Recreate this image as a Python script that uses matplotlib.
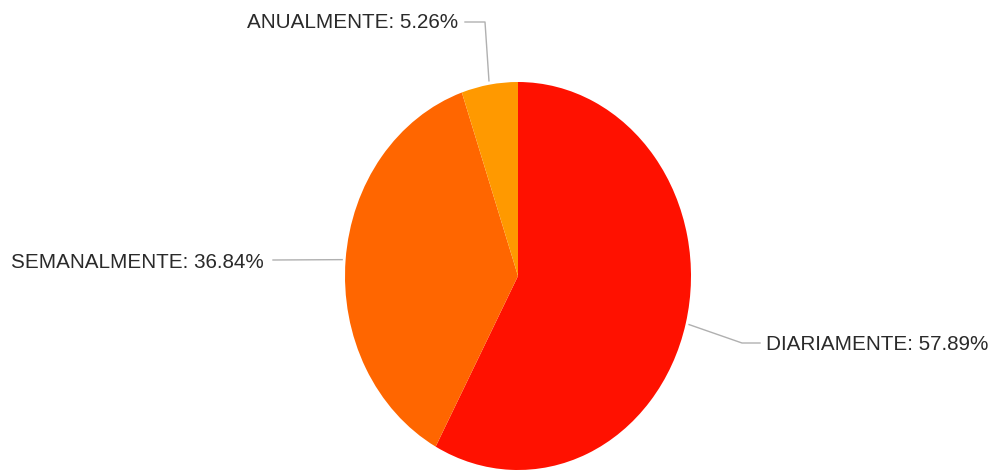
import numpy as np
import matplotlib
matplotlib.use("Agg")
import matplotlib.pyplot as plt
from matplotlib.lines import Line2D

categories = ["DIARIAMENTE", "SEMANALMENTE", "ANUALMENTE"]
percentages = [57.89, 36.84, 5.26]
colors = ["#FF1100", "#FF6600", "#FF9900"]

W, H = 996, 474
fig = plt.figure(figsize=(W / 100, H / 100), dpi=100)
fig.patch.set_facecolor("white")

# Pie axes: stretched vertically, so the pie renders as an ellipse
cx, cy, rx, ry = 518, 276, 173, 194
ax = fig.add_axes([(cx - rx) / W, (H - cy - ry) / H, 2 * rx / W, 2 * ry / H])
wedges, _ = ax.pie(percentages, colors=colors, startangle=90, counterclock=False,
                   radius=1.0, wedgeprops=dict(linewidth=0))
ax.set_aspect("auto")
ax.set_xlim(-1, 1)
ax.set_ylim(-1, 1)
ax.axis("off")

# Label placement (text anchor in pixels from top-left) and leader elbows
label_specs = {
    "DIARIAMENTE": dict(text_xy=(766, 345), ha="left", elbow=(742, 343), end=(760, 343)),
    "SEMANALMENTE": dict(text_xy=(264, 262), ha="right", elbow=None, end=(273, 260)),
    "ANUALMENTE": dict(text_xy=(458, 22), ha="right", elbow=(485, 22), end=(465, 22)),
}

fig.canvas.draw()
for w, cat, pct in zip(wedges, categories, percentages):
    mid = np.deg2rad((w.theta1 + w.theta2) / 2)
    r = 1.02
    px, py = ax.transData.transform((r * np.cos(mid), r * np.sin(mid)))
    spec = label_specs[cat]
    pts = [(px, py)]
    if spec["elbow"] is not None:
        ex, ey = spec["elbow"]
        pts.append((ex, H - ey))
    ex, ey = spec["end"]
    pts.append((ex, H - ey))
    xs, ys = zip(*pts)
    fig.add_artist(Line2D(xs, ys, transform=None, color="#b0b0b0", linewidth=1.0))
    tx, ty = spec["text_xy"]
    fig.text(tx / W, 1 - ty / H, f"{cat}: {pct:.2f}%", ha=spec["ha"], va="center",
             fontsize=14.9, family="Liberation Sans", color="#2a2a2a")

fig.savefig("out.png", dpi=100, facecolor="white")
